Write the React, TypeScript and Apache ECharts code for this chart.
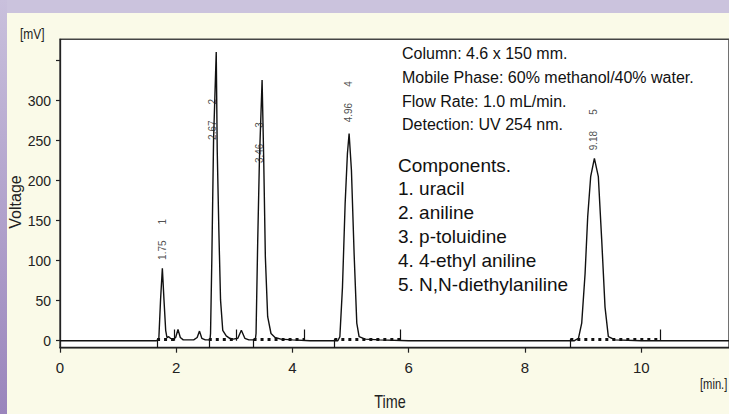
import React, { useEffect, useRef } from "react";
import * as echarts from "echarts";

// Chromatogram trace (time in min, signal in mV)
const traceTime = [
  0, 1.66, 1.7, 1.73, 1.761, 1.789, 1.818, 1.84, 1.87, 1.9, 1.95, 1.99, 2.03, 2.07, 2.12,
  2.3, 2.36, 2.4, 2.44, 2.5, 2.58, 2.59, 2.613, 2.642, 2.688, 2.705, 2.733, 2.762, 2.8,
  2.86, 2.92, 2.98, 3.06, 3.12, 3.18, 3.25, 3.36, 3.373, 3.402, 3.431, 3.477, 3.504, 3.533,
  3.573, 3.63, 3.7, 3.8, 4.0, 4.3, 4.78, 4.815, 4.86, 4.906, 4.945, 4.974, 5.014, 5.06,
  5.106, 5.146, 5.25, 5.5, 6.0, 8.85, 8.92, 8.976, 9.034, 9.079, 9.13, 9.194, 9.262, 9.32,
  9.377, 9.434, 9.55, 10.0, 11.51,
];
const traceSignal = [
  0, 0, 1.7, 51, 90.5, 51, 13, 4, 5, 3, 2, 4, 14, 4, 1,
  1, 4, 12, 3, 1, 1, 9, 105, 251, 361, 238, 138, 51, 13,
  6, 3, 2, 3, 13, 3, 1, 1, 9, 126, 226, 326, 230, 105,
  30, 9, 4, 2, 1, 0, 0, 5, 67, 172, 234, 259, 213, 109,
  22, 5, 2, 1, 0, 0, 3, 22, 84, 155, 205, 228, 205, 126,
  42, 5, 1, 0, 0,
];

// Peak annotations
const peakNumbers = ["1", "2", "3", "4", "5"];
const peakTimes = ["1.75", "2.67", "3.46", "4.96", "9.18"];
const peakLabelTime = [1.77, 2.63, 3.43, 4.96, 9.18];
const peakLabelBase = [101, 251, 222, 273, 238];

// Integration windows
const baselineStart = [1.67, 2.56, 3.33, 4.72, 8.78];
const baselineEnd = [1.97, 3.04, 4.21, 5.86, 10.32];
const baselineLevel = 2;
const endMarkTop = 14;

// Axes
const yMin = -8.75;
const yMax = 376.75;
const yTickValues = [0, 50, 100, 150, 200, 250, 300, 350];
const yLabelValues = [0, 50, 100, 150, 200, 250, 300];
const xMin = 0;
const xMax = 11.51;
const xInterval = 2;

// Texts
const infoLines = [
  "Column: 4.6 x 150 mm.",
  "Mobile Phase: 60% methanol/40% water.",
  "Flow Rate: 1.0 mL/min.",
  "Detection: UV 254 nm.",
];
const componentLines = [
  "Components.",
  "1. uracil",
  "2. aniline",
  "3. p-toluidine",
  "4. 4-ethyl aniline",
  "5. N,N-diethylaniline",
];

const SANS = "'Liberation Sans', Arial, sans-serif";

export default function App() {
  const ref = useRef<HTMLDivElement>(null);

  useEffect(() => {
    if (!ref.current) return;
    const chart = echarts.init(ref.current, undefined, { renderer: "svg" });

    const trace = traceTime.map((t, i) => [t, traceSignal[i]]);
    const markerLines: any[] = [];
    baselineStart.forEach((t) => {
      markerLines.push({ coords: [[t, baselineLevel], [t, yMin]] });
    });
    baselineEnd.forEach((t) => {
      markerLines.push({ coords: [[t, 0], [t, endMarkTop]] });
    });
    const dottedLines = baselineStart.map((s, i) => ({
      coords: [[s, baselineLevel], [baselineEnd[i], baselineLevel]],
    }));

    const infoY = [53, 77, 101, 124];
    const compY = [165, 188, 212, 236, 260, 284];

    const graphics: any[] = [
      ...infoLines.map((t, i) => ({
        type: "text",
        x: 402,
        y: infoY[i],
        silent: true,
        style: { text: t, fontSize: 16, fontFamily: SANS, fill: "#111", textVerticalAlign: "middle" },
      })),
      ...componentLines.map((t, i) => ({
        type: "text",
        x: 398,
        y: compY[i],
        silent: true,
        style: { text: t, fontSize: 19, fontFamily: SANS, fill: "#111", textVerticalAlign: "middle" },
      })),
      {
        type: "text",
        x: 15,
        y: 202,
        rotation: Math.PI / 2,
        silent: true,
        style: {
          text: "Voltage",
          fontSize: 16,
          fontFamily: SANS,
          fill: "#222",
          textAlign: "center",
          textVerticalAlign: "middle",
        },
      },
      {
        type: "text",
        x: 20,
        y: 34,
        scaleX: 0.8,
        silent: true,
        style: { text: "[mV]", fontSize: 15, fontFamily: SANS, fill: "#222", textVerticalAlign: "middle" },
      },
      {
        type: "text",
        x: 390,
        y: 401,
        scaleX: 0.8,
        silent: true,
        style: {
          text: "Time",
          fontSize: 18,
          fontFamily: SANS,
          fill: "#222",
          textAlign: "center",
          textVerticalAlign: "middle",
        },
      },
      {
        type: "text",
        x: 700,
        y: 385,
        scaleX: 0.8,
        silent: true,
        style: { text: "[min.]", fontSize: 14, fontFamily: SANS, fill: "#222", textVerticalAlign: "middle" },
      },
    ];

    chart.setOption({
      animation: false,
      grid: {
        left: 60,
        right: -2,
        top: 39.3,
        bottom: 66.3,
        show: true,
        backgroundColor: "#ffffff",
        borderColor: "#444",
        borderWidth: 1.5,
      },
      xAxis: {
        type: "value",
        min: xMin,
        max: xMax,
        interval: xInterval,
        axisLine: { show: true, onZero: false, lineStyle: { color: "#222", width: 1.3 } },
        axisTick: { show: true, length: 5, lineStyle: { color: "#222", width: 1.2 } },
        axisLabel: {
          showMaxLabel: false,
          margin: 12,
          fontSize: 15,
          fontFamily: SANS,
          color: "#222",
        },
        splitLine: { show: false },
      },
      yAxis: {
        type: "value",
        min: yMin,
        max: yMax,
        axisLine: { show: true, onZero: false, lineStyle: { color: "#222", width: 1.3 } },
        axisTick: {
          show: true,
          length: 4,
          customValues: yTickValues,
          lineStyle: { color: "#222", width: 1.2 },
        },
        axisLabel: {
          customValues: yLabelValues,
          margin: 9,
          fontSize: 14,
          fontFamily: SANS,
          color: "#222",
          padding: [0, 0, 6, 0],
        },
        splitLine: { show: false },
      },
      series: [
        {
          type: "line",
          data: trace,
          showSymbol: false,
          symbol: "none",
          silent: true,
          lineStyle: { color: "#111", width: 1.4 },
          z: 3,
        },
        {
          type: "lines",
          coordinateSystem: "cartesian2d",
          data: dottedLines,
          silent: true,
          lineStyle: { color: "#111", width: 3, type: [3, 4], opacity: 1 },
          z: 2,
        },
        {
          type: "lines",
          coordinateSystem: "cartesian2d",
          data: markerLines,
          silent: true,
          lineStyle: { color: "#111", width: 1.2, opacity: 1 },
          z: 4,
        },
        {
          type: "scatter",
          data: peakLabelTime.map((t, i) => [t, peakLabelBase[i]]),
          symbolSize: 1,
          silent: true,
          itemStyle: { color: "rgba(0,0,0,0)" },
          label: {
            show: true,
            position: "inside",
            rotate: 90,
            align: "left",
            verticalAlign: "middle",
            formatter: (p: any) => `{a|${peakTimes[p.dataIndex]}}{b|${peakNumbers[p.dataIndex]}}`,
            rich: {
              a: { fontSize: 10, fontFamily: SANS, color: "#222" },
              b: { fontSize: 10, fontFamily: SANS, color: "#222", padding: [0, 0, 0, 16] },
            },
          },
          z: 5,
        },
      ],
      graphic: graphics,
    });

    return () => chart.dispose();
  }, []);

  return (
    <div style={{ position: "fixed", left: 0, top: 0, width: 729, height: 414, background: "#cbc3dd", overflow: "hidden" }}>
      <div
        style={{
          position: "absolute",
          left: 0,
          top: 0,
          width: 7,
          height: 414,
          background: "linear-gradient(#c9c0dc, #9a85bc)",
        }}
      />
      <div style={{ position: "absolute", left: 7, top: 13, right: 0, bottom: 0, background: "#fafae8" }} />
      <div ref={ref} style={{ position: "absolute", left: 0, top: 0, width: 729, height: 414 }} />
    </div>
  );
}
